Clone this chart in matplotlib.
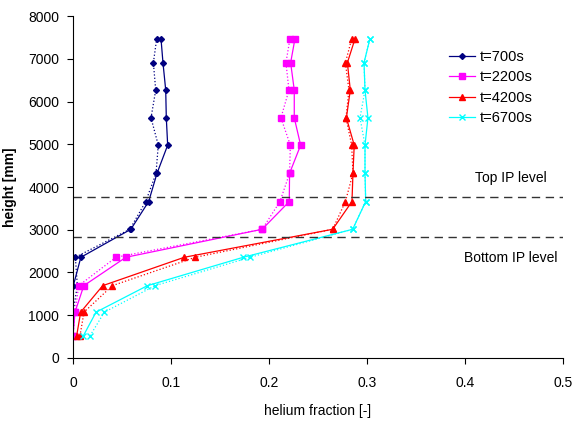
import matplotlib.pyplot as plt

plt.rcParams['font.family'] = ['Liberation Sans', 'DejaVu Sans']
plt.rcParams['font.size'] = 10

# heights of the measurement points [mm]
heights = [515, 1070, 1690, 2355, 3010, 3660, 4320, 4980, 5620, 6270, 6910, 7470]

# helium fraction, solid series
he_700 = [0.0, 0.0, 0.0003, 0.008, 0.059, 0.0772, 0.0857, 0.0966, 0.0952, 0.0946, 0.0918, 0.0898]
he_2200 = [0.0, 0.002, 0.011, 0.054, 0.193, 0.2207, 0.221, 0.2323, 0.2258, 0.2258, 0.2221, 0.2265]
he_4200 = [0.0037, 0.0078, 0.0303, 0.1136, 0.265, 0.2847, 0.2857, 0.287, 0.279, 0.283, 0.280, 0.2878]
he_6700 = [0.0105, 0.0235, 0.0759, 0.1738, 0.2854, 0.2987, 0.298, 0.298, 0.301, 0.298, 0.297, 0.303]

# helium fraction, dotted series
he_700_b = [0.0, 0.0, 0.0044, 0.0024, 0.058, 0.0742, 0.0847, 0.087, 0.0796, 0.0844, 0.082, 0.0854]
he_2200_b = [0.0, 0.002, 0.0058, 0.0439, 0.193, 0.2112, 0.221, 0.2218, 0.2122, 0.2204, 0.2173, 0.2214]
he_4200_b = [0.0071, 0.0112, 0.0401, 0.1248, 0.265, 0.278, 0.2857, 0.2844, 0.2786, 0.2816, 0.278, 0.2844]
he_6700_b = [0.0173, 0.032, 0.0837, 0.1806, 0.2854, 0.2987, 0.298, 0.298, 0.2929, 0.298, 0.297, 0.303]

labels = ['t=700s', 't=2200s', 't=4200s', 't=6700s']
colours = ['#000080', '#FF00FF', '#FF0000', '#00FFFF']
markers = ['D', 's', '^', 'x']
sizes = [3, 4, 4, 4]

top_ip = 3770
bottom_ip = 2830

fig = plt.figure(figsize=(5.75, 4.26), dpi=100)
ax = fig.add_axes([0.127, 0.16, 0.852, 0.802])

solid = [he_700, he_2200, he_4200, he_6700]
dotted = [he_700_b, he_2200_b, he_4200_b, he_6700_b]
for i in range(4):
    ax.plot(solid[i], heights, color=colours[i], marker=markers[i], markersize=sizes[i],
            linewidth=0.9, label=labels[i])
    ax.plot(dotted[i], heights, color=colours[i], marker=markers[i], markersize=sizes[i],
            linewidth=0.9, linestyle=':')

ax.axhline(top_ip, color='#333333', linestyle=(0, (6, 4)), linewidth=1)
ax.axhline(bottom_ip, color='#333333', linestyle=(0, (6, 4)), linewidth=1)
ax.text(0.447, 4210, 'Top IP level', ha='center', va='center')
ax.text(0.447, 2340, 'Bottom IP level', ha='center', va='center')

ax.set_xlim(0, 0.5)
ax.set_ylim(0, 8000)
ax.set_xticks([0, 0.1, 0.2, 0.3, 0.4, 0.5])
ax.set_xticklabels(['0', '0.1', '0.2', '0.3', '0.4', '0.5'])
ax.set_yticks(range(0, 8001, 1000))
ax.spines['top'].set_visible(False)
ax.spines['right'].set_visible(False)
ax.tick_params(length=4)
ax.tick_params(axis='x', pad=9)
ax.tick_params(axis='y', pad=6)

ax.set_xlabel('helium fraction [-]', labelpad=10)
ax.set_ylabel('height [mm]', fontweight='bold', labelpad=8)

ax.legend(loc='upper right', bbox_to_anchor=(0.965, 0.94), frameon=False,
          handlelength=1.8, handletextpad=0.3, labelspacing=0.45, fontsize=10.5)

plt.savefig('out.png')
